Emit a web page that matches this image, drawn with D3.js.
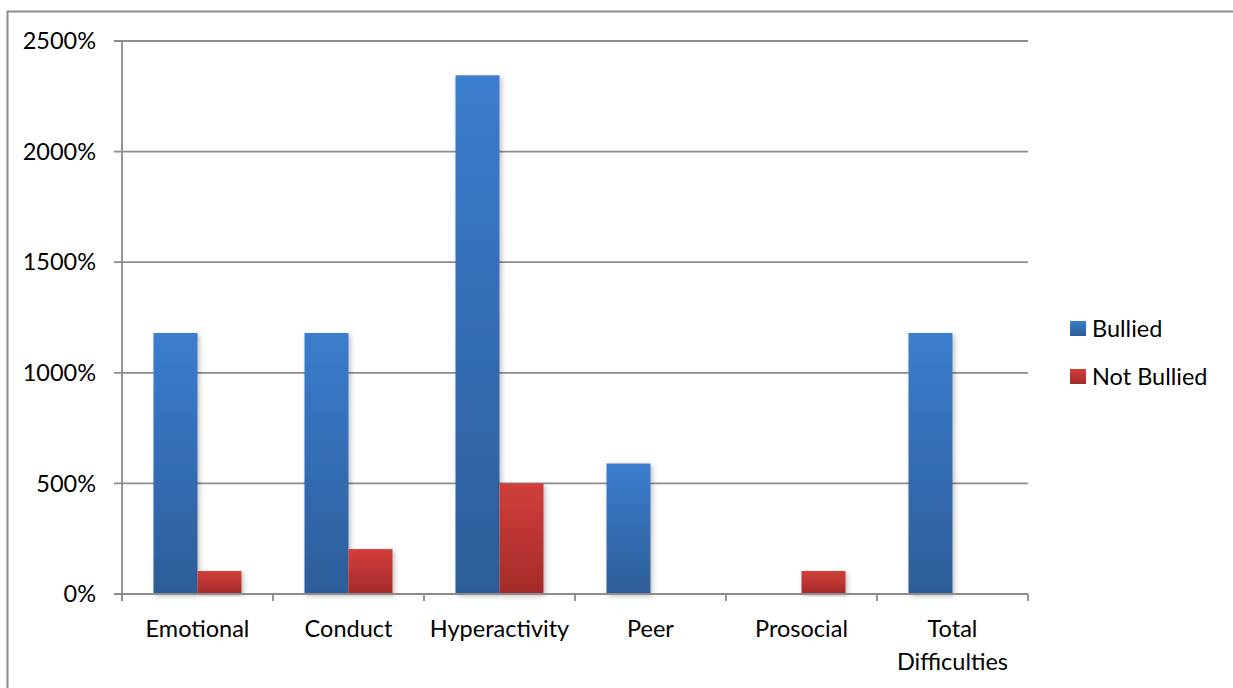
<!DOCTYPE html>
<html>
<head>
<meta charset="utf-8">
<script src="https://cdn.jsdelivr.net/npm/d3@7"></script>
<style>
  body { margin: 0; background: #fff; }
  text { font-family: "Lato", "Open Sans", sans-serif; fill: #000; }
</style>
</head>
<body>
<script>
// data
var categories = ["Emotional", "Conduct", "Hyperactivity", "Peer", "Prosocial", "Total Difficulties"];
var bullied    = [1180, 1180, 2345, 590, 0, 1180];
var notBullied = [104, 203, 500, 0, 104, 0];
var seriesNames = ["Bullied", "Not Bullied"];
var yTicks = [0, 500, 1000, 1500, 2000, 2500];

var W = 1233, H = 688;
var margin = { left: 122, right: 205, top: 41, bottom: 94 };

var svg = d3.select("body").append("svg")
  .attr("width", W).attr("height", H);

var defs = svg.append("defs");
function grad(id, top, bot) {
  var g = defs.append("linearGradient").attr("id", id)
    .attr("x1", 0).attr("y1", 0).attr("x2", 0).attr("y2", 1);
  g.append("stop").attr("offset", "0%").attr("stop-color", top);
  g.append("stop").attr("offset", "100%").attr("stop-color", bot);
}
grad("gBlue", "#3b7dce", "#2c5d98");
grad("gRed", "#d23e3b", "#a32b29");
var f = defs.append("filter").attr("id", "shadow")
  .attr("x", "-20%").attr("y", "-5%").attr("width", "150%").attr("height", "115%");
f.append("feDropShadow").attr("dx", 2).attr("dy", 2).attr("stdDeviation", 2.5)
  .attr("flood-color", "#000").attr("flood-opacity", 0.25);

// outer border (right side runs off the picture)
svg.append("rect").attr("x", 7.5).attr("y", 11.5)
  .attr("width", 1240).attr("height", 700)
  .attr("fill", "none").attr("stroke", "#8c8c8c").attr("stroke-width", 2);

var x0 = d3.scaleBand().domain(categories)
  .range([margin.left, W - margin.right]).paddingInner(0).paddingOuter(0);
var y = d3.scaleLinear().domain([0, 2500]).range([H - margin.bottom, margin.top]);
var barW = 44;

// gridlines
svg.append("g").selectAll("line").data(yTicks.slice(1)).enter().append("line")
  .attr("x1", margin.left - 8).attr("x2", W - margin.right)
  .attr("y1", function(d) { return y(d); }).attr("y2", function(d) { return y(d); })
  .attr("stroke", "#8c8c8c").attr("stroke-width", 1.8);

// y labels
svg.append("g").selectAll("text").data(yTicks).enter().append("text")
  .attr("x", 96).attr("y", function(d) { return y(d); })
  .attr("dy", "0.35em").attr("text-anchor", "end")
  .style("font-size", "23.5px")
  .text(function(d) { return d + "%"; });

// bars
var rows = categories.map(function(c, i) { return { cat: c, vals: [bullied[i], notBullied[i]] }; });
var fills = ["url(#gBlue)", "url(#gRed)"];
var grp = svg.append("g").selectAll("g").data(rows).enter().append("g");
grp.selectAll("rect").data(function(d) {
    return d.vals.map(function(v, k) { return { cat: d.cat, v: v, k: k }; });
  }).enter().filter(function(d) { return d.v > 0; }).append("rect")
  .attr("x", function(d) { return x0(d.cat) + x0.bandwidth() / 2 - barW + d.k * barW; })
  .attr("width", barW)
  .attr("y", function(d) { return y(d.v); })
  .attr("height", function(d) { return y(0) - y(d.v); })
  .attr("fill", function(d) { return fills[d.k]; })
  .attr("filter", "url(#shadow)");

// axes lines
svg.append("line").attr("x1", margin.left).attr("x2", margin.left)
  .attr("y1", margin.top).attr("y2", y(0) + 7)
  .attr("stroke", "#8c8c8c").attr("stroke-width", 1.8);
svg.append("line").attr("x1", margin.left - 8).attr("x2", W - margin.right)
  .attr("y1", y(0)).attr("y2", y(0))
  .attr("stroke", "#8c8c8c").attr("stroke-width", 1.8);
var edges = categories.map(function(c) { return x0(c); }).concat([W - margin.right]);
svg.append("g").selectAll("line").data(edges).enter().append("line")
  .attr("x1", function(d) { return d; }).attr("x2", function(d) { return d; })
  .attr("y1", y(0)).attr("y2", y(0) + 7)
  .attr("stroke", "#8c8c8c").attr("stroke-width", 1.8);

// x labels
svg.append("g").selectAll("text").data(categories).enter().append("text")
  .attr("x", function(d) { return x0(d) + x0.bandwidth() / 2; })
  .attr("y", 637).attr("text-anchor", "middle")
  .style("font-size", "23.5px")
  .each(function(d) {
    var t = d3.select(this);
    var parts = d === "Total Difficulties" ? ["Total", "Difficulties"] : [d];
    parts.forEach(function(p, i) {
      t.append("tspan").attr("x", x0(d) + x0.bandwidth() / 2)
        .attr("dy", i === 0 ? 0 : 33).text(p);
    });
  });

// legend
var leg = svg.append("g").selectAll("g").data(seriesNames).enter().append("g")
  .attr("transform", function(d, i) { return "translate(1070," + (321 + i * 48) + ")"; });
leg.append("rect").attr("width", 16).attr("height", 15)
  .attr("fill", function(d, i) { return fills[i]; });
leg.append("text").attr("x", 22).attr("y", 8).attr("dy", "0.35em")
  .style("font-size", "23.5px").text(function(d) { return d; });
</script>
</body>
</html>
